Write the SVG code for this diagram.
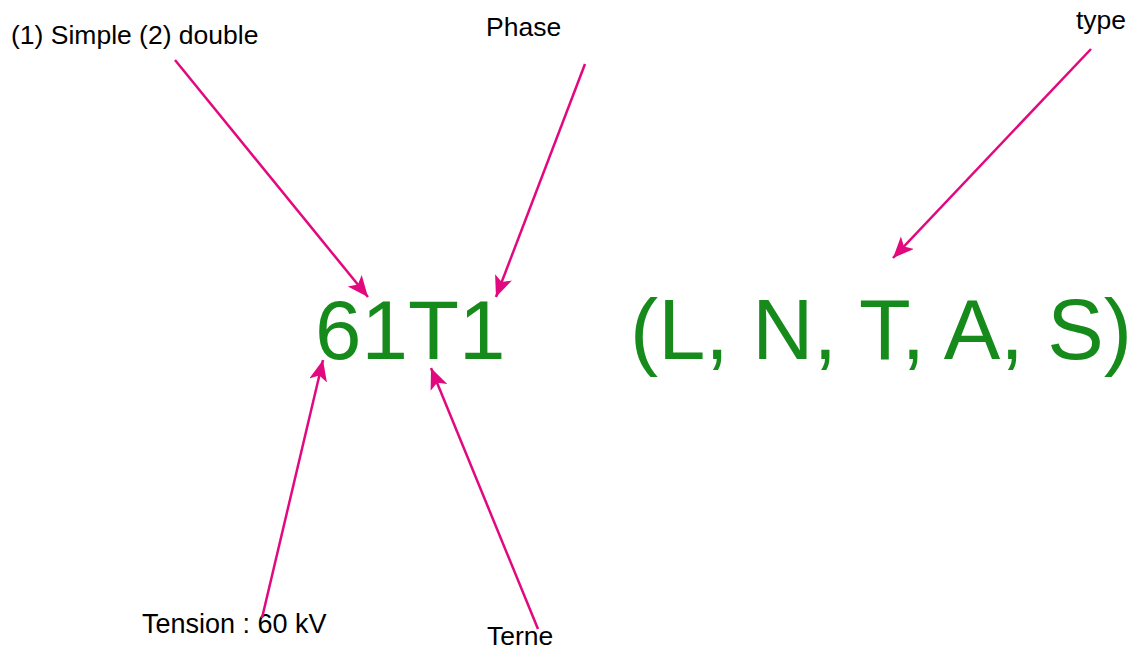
<svg xmlns="http://www.w3.org/2000/svg" width="1134" height="649" viewBox="0 0 1134 649">
  <style>
    .label { font-family: "Liberation Sans", Arial, sans-serif; font-size: 26.5px; fill: #000; }
    .code { font-family: "Liberation Sans", Arial, sans-serif; font-size: 83.5px; fill: #168b1c; }
    .arrow { stroke: #e2097f; stroke-width: 2.5; fill: none; marker-end: url(#head); }
  </style>
  <defs>
    <marker id="head" markerUnits="userSpaceOnUse" markerWidth="24" markerHeight="20" refX="21" refY="9" orient="auto">
      <path d="M0,0 L21,9 L0,18 L5,9 Z" fill="#e2097f"/>
    </marker>
  </defs>
  <rect width="1134" height="649" fill="#fff"/>

  <!-- main codes -->
  <g id="code-main"><text class="code" x="315" y="359">61T1</text></g>
  <g id="code-types"><text class="code" x="630" y="359" style="font-size:84.7px">(L, N, T, A, S)</text></g>

  <!-- annotation labels -->
  <g id="label-count"><text class="label" x="11" y="44">(1) Simple (2) double</text></g>
  <g id="label-phase"><text class="label" x="486" y="36">Phase</text></g>
  <g id="label-type"><text class="label" x="1076" y="29">type</text></g>
  <g id="label-tension"><text class="label" x="142" y="633" style="font-size:27px">Tension : 60 kV</text></g>
  <g id="label-terne"><text class="label" x="487" y="645">Terne</text></g>

  <!-- connectors -->
  <g id="connectors">
    <line class="arrow" x1="175" y1="60" x2="368" y2="297"/>
    <line class="arrow" x1="585" y1="64" x2="496" y2="297"/>
    <line class="arrow" x1="1091" y1="49" x2="893" y2="258"/>
    <line class="arrow" x1="262" y1="618" x2="323" y2="360"/>
    <line class="arrow" x1="538" y1="629" x2="431" y2="368"/>
  </g>
</svg>
